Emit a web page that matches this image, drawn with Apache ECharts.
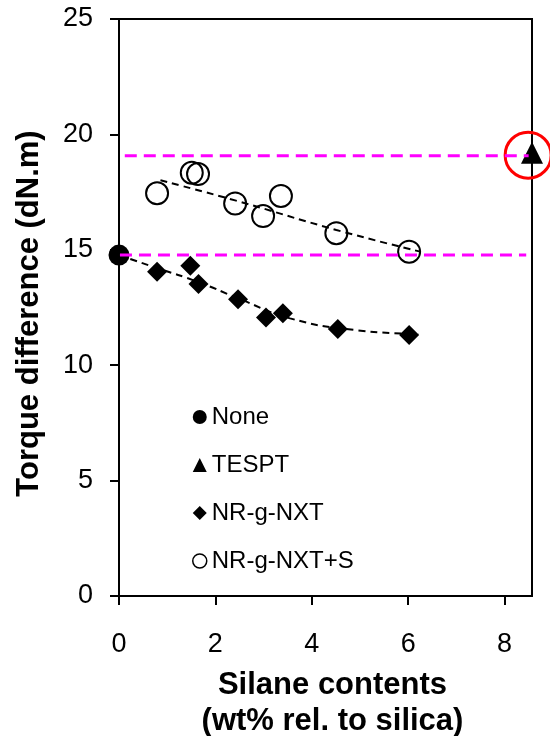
<!DOCTYPE html>
<html>
<head>
<meta charset="utf-8">
<script src="https://cdn.jsdelivr.net/npm/echarts@6/dist/echarts.min.js"></script>
<style>
  html, body { margin: 0; padding: 0; background: #fff; }
  #chart { width: 550px; height: 736px; }
</style>
</head>
<body>
<div id="chart"></div>
<script>
// Torque difference vs. silane content
const xTicks = [0, 2, 4, 6, 8];
const xMax = 8.57;

const noneData = [[0, 14.77]];
const tesptData = [[8.57, 19.2]];
const nxtData = [
  [0.79, 14.05], [1.48, 14.31], [1.65, 13.52], [2.47, 12.86],
  [3.05, 12.07], [3.40, 12.25], [4.54, 11.57], [6.02, 11.31]
];
const nxtSData = [
  [0.79, 17.45], [1.51, 18.34], [1.64, 18.28], [2.41, 17.01],
  [2.99, 16.46], [3.36, 17.33], [4.51, 15.72], [6.02, 14.92]
];
// dashed trend curves
const nxtTrend = [
  [0, 14.77], [0.8, 14.2], [1.65, 13.6], [2.47, 12.9],
  [3.55, 12.03], [4.87, 11.53], [6.22, 11.35]
];
const nxtSTrend = [[0.86, 18.01], [2.41, 17.14], [4.51, 15.86], [6.25, 14.92]];
// reference levels
const tesptLevel = [[0.12, 19.08], [8.5, 19.08]];
const noneLevel = [[0.02, 14.77], [8.45, 14.77]];
// red ring around the TESPT result
const tesptRing = [[8.49, 19.1]];

const FONT = '"Liberation Sans", Arial, sans-serif';
const chart = echarts.init(document.getElementById('chart'), null, { renderer: 'canvas' });

const solid = { opacity: 1 };

const option = {
  animation: false,
  backgroundColor: '#fff',
  grid: {
    left: 119, right: 18, top: 19, bottom: 140,
    outerBoundsMode: 'none', containLabel: false,
    show: true, borderColor: '#000', borderWidth: 2, backgroundColor: 'transparent'
  },
  legend: {
    orient: 'vertical',
    left: 187, top: 400,
    itemWidth: 14, itemHeight: 14, itemGap: 24,
    textStyle: { fontFamily: FONT, fontSize: 24, color: '#000', lineHeight: 24 },
    data: [
      { name: 'None', icon: 'circle', itemStyle: { color: '#000', opacity: 1 } },
      { name: 'TESPT', icon: 'triangle', itemStyle: { color: '#000', opacity: 1 } },
      { name: 'NR-g-NXT', icon: 'diamond', itemStyle: { color: '#000', opacity: 1 } },
      { name: 'NR-g-NXT+S', icon: 'circle', itemStyle: { color: '#fff', borderColor: '#000', borderWidth: 1.5, opacity: 1 } }
    ]
  },
  xAxis: {
    type: 'value', min: 0, max: xMax,
    splitLine: { show: false },
    axisLine: { show: true, lineStyle: { color: '#000', width: 2 } },
    axisTick: { show: true, length: 9, lineStyle: { color: '#000', width: 2 }, customValues: xTicks },
    axisLabel: { customValues: xTicks, margin: 35, fontFamily: FONT, fontSize: 27, color: '#000' },
    name: 'Silane contents\n(wt% rel. to silica)',
    nameLocation: 'middle', nameGap: 71,
    nameTextStyle: { fontFamily: FONT, fontSize: 31, fontWeight: 'bold', color: '#000', lineHeight: 36, padding: [0, 0, 0, 14] }
  },
  yAxis: {
    type: 'value', min: 0, max: 25, interval: 5,
    splitLine: { show: false },
    axisLine: { show: true, lineStyle: { color: '#000', width: 2 } },
    axisTick: { show: true, length: 9, lineStyle: { color: '#000', width: 2 } },
    axisLabel: { margin: 26, fontFamily: FONT, fontSize: 27, color: '#000', lineHeight: 27, padding: [12, 0, 0, 0] },
    name: 'Torque difference (dN.m)',
    nameLocation: 'middle', nameGap: 74,
    nameTextStyle: { fontFamily: FONT, fontSize: 31, fontWeight: 'bold', color: '#000', padding: [0, 12, 0, 0] }
  },
  series: [
    {
      name: 'NR-g-NXT trend', type: 'line', data: nxtTrend, smooth: true,
      showSymbol: false, silent: true,
      lineStyle: { color: '#000', width: 2, type: [7, 5] }
    },
    {
      name: 'NR-g-NXT+S trend', type: 'line', data: nxtSTrend, smooth: true,
      showSymbol: false, silent: true,
      lineStyle: { color: '#000', width: 2, type: [7, 5] }
    },
    {
      name: 'None', type: 'scatter', data: noneData, clip: false,
      symbol: 'circle', symbolSize: 21, itemStyle: Object.assign({ color: '#000' }, solid)
    },
    {
      name: 'TESPT', type: 'scatter', data: tesptData, clip: false,
      symbol: 'triangle', symbolSize: [22, 22], itemStyle: Object.assign({ color: '#000' }, solid)
    },
    {
      name: 'NR-g-NXT', type: 'scatter', data: nxtData,
      symbol: 'diamond', symbolSize: [20, 20], itemStyle: Object.assign({ color: '#000' }, solid)
    },
    {
      name: 'NR-g-NXT+S', type: 'scatter', data: nxtSData,
      symbol: 'circle', symbolSize: 22,
      itemStyle: { color: 'rgba(0,0,0,0)', borderColor: '#000', borderWidth: 2, opacity: 1 }
    },
    {
      name: 'TESPT level', type: 'line', data: tesptLevel, showSymbol: false, silent: true,
      lineStyle: { color: '#ff00ff', width: 3, type: [12, 7] }
    },
    {
      name: 'None level', type: 'line', data: noneLevel, showSymbol: false, silent: true,
      lineStyle: { color: '#ff00ff', width: 3, type: [12, 7] }
    },
    {
      name: 'TESPT highlight', type: 'scatter', data: tesptRing, clip: false, silent: true,
      symbol: 'circle', symbolSize: 46,
      itemStyle: { color: 'rgba(0,0,0,0)', borderColor: '#ff0000', borderWidth: 3, opacity: 1 }
    }
  ]
};
chart.setOption(option);
</script>
</body>
</html>
